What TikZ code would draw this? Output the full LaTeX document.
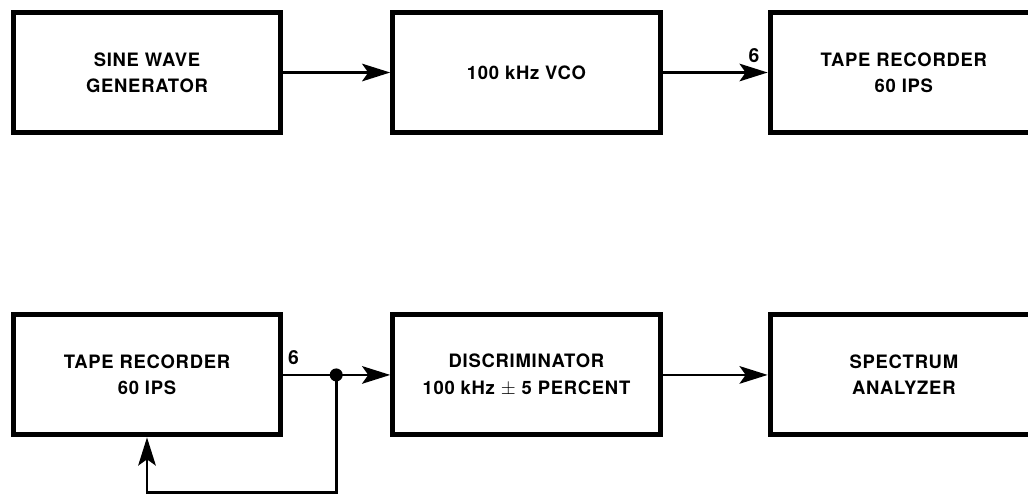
\documentclass[tikz,border=0pt]{standalone}
\usepackage{fontspec}
\setsansfont{TeX Gyre Heros}
\usepackage{tikz}
\usetikzlibrary{
  arrows.meta,
  positioning,
  calc
}
\tikzset{
  % Block box: thick border, fixed size
  blk/.style={
    rectangle, draw=black, line width=2.8pt,
    minimum width=5.35cm, minimum height=2.4cm,
    align=center,
    font=\sffamily\bfseries\fontsize{10.5}{15}\selectfont\addfontfeatures{LetterSpace=4}
  },
  % Signal arrow
  arr/.style={
    -{Stealth[length=16pt,width=10pt,inset=3.5pt]},
    line width=1.5pt, color=black
  },
  % Plain signal line
  wire/.style={line width=1.5pt, color=black},
  % Channel label
  chn/.style={font=\sffamily\bfseries\fontsize{11}{12}\selectfont, inner sep=2pt}
}
\begin{document}
\begin{tikzpicture}[node distance=2.14cm]
  \useasboundingbox (0,0) rectangle (20.56,-9.86);
  % Recording chain
  \node[blk] (gen) at (2.94,-1.45) {SINE WAVE\\GENERATOR};
  \node[blk, right=2.14cm of gen] (vco) {100 kHz VCO};
  \node[blk, right=2.1cm of vco]  (rec1) {TAPE RECORDER\\60 IPS};

  % Playback chain
  \node[blk, below=3.55cm of gen]  (rec2) {TAPE RECORDER\\60 IPS};
  \node[blk, right=2.14cm of rec2] (disc) {DISCRIMINATOR\\100 kHz $\pm$ 5 PERCENT};
  \node[blk, right=2.1cm of disc] (spec) {SPECTRUM\\ANALYZER};

  \draw[arr] (gen) -- (vco);
  \draw[arr] (vco) -- node[chn, pos=1, above left, yshift=3pt, xshift=-2pt] {6} (rec1);

  \coordinate (jn) at ($(rec2.east)+(1.06,0)$);
  \coordinate (fb) at ($(jn |- rec2.south)+(0,-1.1)$);
  \draw[wire] (rec2.east) -- node[chn, pos=0, above right, yshift=3pt] {6} (jn);
  \draw[arr]  (jn) -- (disc);
  \draw[arr]  (jn) -- (fb) -| (rec2.south);
  \fill (jn) circle (0.13);

  \draw[arr] (disc) -- (spec);
\end{tikzpicture}
\end{document}
